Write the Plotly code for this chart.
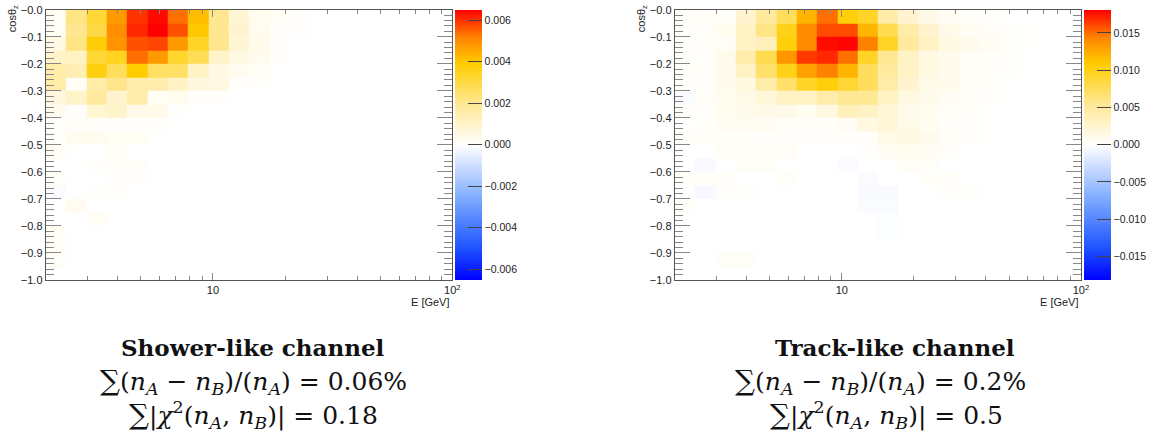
import numpy as np
import plotly.graph_objects as go

# ---------------- binning (axes) ----------------
E_LO, E_HI, N_E = 2.0, 100.0, 20
COS_LO, COS_HI, N_COS = -1.0, 0.0, 20

# ---------------- data: relative difference per bin, in units of 1e-3 ----------------
# rows listed from top (cos_z ~ 0) to bottom (cos_z ~ -1); 20 energy bins each
SHOWER = [
    [0.2, 2.2, 3.2, 4.8, 6.0, 6.4, 5.4, 4.2, 2.0, 0.8, 0.3, 0.2, 0.05, 0, 0, 0, 0, 0, 0, 0],
    [0.2, 2.0, 3.0, 5.0, 6.1, 6.5, 5.7, 4.0, 2.0, 0.9, 0.3, 0.1, 0.05, 0, 0, 0, 0, 0, 0, 0],
    [0.5, 2.2, 3.8, 4.9, 5.7, 5.8, 4.8, 3.4, 2.0, 0.8, 0.4, 0.1, 0, 0, 0, 0, 0, 0, 0, 0],
    [1.0, 1.1, 3.2, 3.5, 5.4, 4.8, 3.3, 2.8, 1.0, 0.5, 0.3, 0.1, 0, 0, 0, 0, 0, 0, 0, 0],
    [1.6, 1.4, 3.7, 2.7, 3.9, 2.6, 2.6, 1.1, 0.5, 0.3, 0.2, 0, 0, 0, 0, 0, 0, 0, 0, 0],
    [1.6, 0.2, 1.6, 2.1, 1.5, 1.5, 1.1, 0.6, 0.5, 0.1, 0.1, 0, 0, 0, 0, 0, 0, 0, 0, 0],
    [0.6, 1.0, 1.8, 0.9, 1.5, 0.2, 0.3, 0.1, 0.1, 0, 0, 0, 0, 0, 0, 0, 0, 0, 0, 0],
    [0.3, 0.05, 0.8, 1.0, 0.4, 0.4, 0.05, 0, 0, 0, 0, 0, 0, 0, 0, 0, 0, 0, 0, 0],
    [0.15, 0.15, 0.15, 0.1, 0.1, 0.1, 0, 0, 0, 0, 0, 0, 0, 0, 0, 0, 0, 0, 0, 0],
    [0.1, 0.3, 0.3, 0.2, 0.2, 0, 0, 0, 0, 0, 0, 0, 0, 0, 0, 0, 0, 0, 0, 0],
    [0.2, 0, 0, 0.2, 0, 0, 0, 0, 0, 0, 0, 0, 0, 0, 0, 0, 0, 0, 0, 0],
    [0, 0, 0.1, 0.15, 0.15, 0, 0, 0, 0, 0, 0, 0, 0, 0, 0, 0, 0, 0, 0, 0],
    [0.15, 0, 0, 0.1, 0.1, 0, 0, 0, 0, 0, 0, 0, 0, 0, 0, 0, 0, 0, 0, 0],
    [-0.1, 0, 0.1, 0.1, 0, 0, 0, 0, 0, 0, 0, 0, 0, 0, 0, 0, 0, 0, 0, 0],
    [0, 0.3, 0, 0, 0, 0, 0, 0, 0, 0, 0, 0, 0, 0, 0, 0, 0, 0, 0, 0],
    [0, 0, 0.2, 0, 0, 0, 0, 0, 0, 0, 0, 0, 0, 0, 0, 0, 0, 0, 0, 0],
    [0.2, 0, 0, 0, 0, 0, 0, 0, 0, 0, 0, 0, 0, 0, 0, 0, 0, 0, 0, 0],
    [0.2, 0, 0, 0, 0, 0, 0, 0, 0, 0, 0, 0, 0, 0, 0, 0, 0, 0, 0, 0],
    [0.15, 0, 0, 0, 0, 0, 0, 0, 0, 0, 0, 0, 0, 0, 0, 0, 0, 0, 0, 0],
    [0, 0, 0, 0, 0, 0, 0, 0, 0, 0, 0, 0, 0, 0, 0, 0, 0, 0, 0, 0],
]

TRACK = [
    [0.2, 0.5, 0.3, 2.5, 5.0, 7.5, 12.0, 15.0, 10.5, 9.5, 4.5, 2.5, 1.2, 0.6, 0.3, 0.2, 0.1, 0, 0, 0],
    [0.2, 0.4, 0.8, 3.0, 6.0, 10.0, 14.0, 16.0, 16.0, 12.0, 8.0, 4.5, 2.5, 1.2, 0.6, 0.4, 0.2, 0.1, 0, 0],
    [0.2, 0.3, 0.5, 3.0, 3.5, 10.5, 14.0, 17.8, 18.0, 14.5, 9.5, 5.0, 3.0, 1.5, 1.0, 0.6, 0.3, 0.1, 0, 0],
    [0.2, 0.3, 1.0, 4.5, 8.0, 13.5, 16.5, 17.0, 15.0, 9.5, 5.5, 3.0, 1.5, 1.0, 0.5, 0.3, 0.2, 0, 0, 0],
    [0.4, 0.3, 1.0, 3.0, 7.0, 10.0, 13.0, 14.5, 12.0, 7.5, 5.0, 3.0, 1.5, 1.0, 0.5, 0.3, 0.2, 0, 0, 0],
    [0.2, 0.4, 1.0, 1.5, 4.5, 7.0, 9.5, 10.5, 9.0, 7.5, 4.5, 2.5, 1.2, 1.0, 0.5, 0.3, 0.1, 0, 0, 0],
    [-0.3, 0.5, 0.8, 1.2, 2.0, 3.0, 3.0, 4.5, 5.5, 5.5, 3.0, 1.5, 1.0, 0.6, 0.3, 0.2, 0.1, 0, 0, 0],
    [0.2, 0.3, 0.8, 1.0, 1.2, 1.2, 0.8, 1.5, 3.5, 3.0, 2.0, 1.0, 0.8, 0.5, 0.3, 0.1, 0, 0, 0, 0],
    [0.1, 0.3, 0.6, 0.6, 0.6, 0.3, 0.3, 0.3, 0.6, 1.5, 2.0, 1.2, 0.8, 0.3, 0.2, 0.1, 0, 0, 0, 0],
    [0.2, 0.5, 0.3, 0.3, 0.2, 0.2, 0.2, 0.2, 0.2, 0.2, 1.2, 1.5, 1.0, 0.5, 0.2, 0.1, 0, 0, 0, 0],
    [0, 0, 0.5, 0.5, 0.5, 0.5, 0, 0, 0, 0.2, 0.6, 0.8, 0.6, 0.4, 0, 0, 0, 0, 0, 0],
    [0, -0.4, 0, 0.4, 0.4, 0, 0, 0, -0.3, 0, 0, 0.5, 0.4, 0, 0, 0, 0, 0, 0, 0],
    [0.3, 0.3, 0.3, 0, 0, 0.4, 0, 0, 0, -0.3, 0, 0, 0.3, 0.3, 0, 0, 0, 0, 0, 0],
    [0, -0.5, 0.3, 0.3, 0, 0, 0, 0, 0, -0.4, -0.4, 0, 0, 0.3, 0.3, 0, 0, 0, 0, 0],
    [0.3, 0, 0, 0, 0, 0, 0, 0, 0, -0.3, -0.3, 0, 0, 0, 0, 0, 0, 0, 0, 0],
    [0, 0, 0, 0, 0, 0, 0, 0, 0, 0, -0.2, 0, 0, 0, 0, 0, 0, 0, 0, 0],
    [0, 0, 0, 0, 0, 0, 0, 0, 0, 0, -0.2, 0, 0, 0, 0, 0, 0, 0, 0, 0],
    [0, 0, 0, 0, 0, 0, 0, 0, 0, 0, 0, 0, 0, 0, 0, 0, 0, 0, 0, 0],
    [0, 0, 0.4, 0.4, 0, 0, 0, 0, 0, 0, 0, 0, 0, 0, 0, 0, 0, 0, 0, 0],
    [0, 0, 0, 0, 0, 0, 0, 0, 0, 0, 0, 0, 0, 0, 0, 0, 0, 0, 0, 0],
]
UNIT = 1e-3

Z_RANGE_SHOWER = 0.0065
Z_RANGE_TRACK = 0.0181

CB_TICKS_SHOWER = [-0.006, -0.004, -0.002, 0.0, 0.002, 0.004, 0.006]
CB_TICKS_TRACK = [-0.015, -0.010, -0.005, 0.0, 0.005, 0.010, 0.015]

Y_TICKS = [round(-1.0 + 0.1 * i, 1) for i in range(11)]
Y_TICKTEXT = ["\u2212%.1f" % abs(v) for v in Y_TICKS]
X_TICKS = [10, 100]
X_TICKTEXT = ["10", "10<sup>2</sup>"]
X_MINOR = [2, 3, 4, 5, 6, 7, 8, 9, 20, 30, 40, 50, 60, 70, 80, 90]

TITLES = ["Shower-like channel", "Track-like channel"]
REL_DIFF = ["0.06%", "0.2%"]
CHI2 = ["0.18", "0.5"]

# ---------------- figure ----------------
W, H = 1151, 436
e_edges = np.logspace(np.log10(E_LO), np.log10(E_HI), N_E + 1)
c_edges = np.linspace(COS_LO, COS_HI, N_COS + 1)

CS = [
    [0.0, "rgb(0,0,255)"],
    [0.12, "rgb(30,85,255)"],
    [0.30, "rgb(125,170,255)"],
    [0.50, "rgb(255,255,255)"],
    [0.65, "rgb(255,232,150)"],
    [0.80, "rgb(255,205,0)"],
    [0.90, "rgb(255,130,0)"],
    [1.0, "rgb(255,0,0)"],
]

TICKFONT = dict(family="Liberation Sans, Arial, sans-serif", size=11, color="#222")
CBFONT = dict(family="Liberation Sans, Arial, sans-serif", size=10.5, color="#222")

panels = [
    dict(data=SHOWER, zr=Z_RANGE_SHOWER, cbt=CB_TICKS_SHOWER,
         x0=45.7, x1=452.3, cbx=455.0),
    dict(data=TRACK, zr=Z_RANGE_TRACK, cbt=CB_TICKS_TRACK,
         x0=674.7, x1=1081.0, cbx=1084.0),
]
Y_TOP, Y_BOT = 9.7, 280.0

fig = go.Figure()
for i, p in enumerate(panels):
    z = (np.array(p["data"][::-1], dtype=float) * UNIT)
    xa = "x" if i == 0 else "x2"
    ya = "y" if i == 0 else "y2"
    fig.add_trace(go.Heatmap(
        x=e_edges, y=c_edges, z=z, xaxis=xa, yaxis=ya,
        colorscale=CS, zmin=-p["zr"], zmax=p["zr"],
        hoverongaps=False,
        colorbar=dict(
            x=p["cbx"] / W, xanchor="left", xref="container",
            y=1 - Y_TOP / H, yanchor="top", yref="container",
            len=Y_BOT - Y_TOP, lenmode="pixels",
            thickness=27, thicknessmode="pixels",
            xpad=0, ypad=0, outlinewidth=0,
            ticks="inside", ticklen=14, tickcolor="#444", tickwidth=1,
            tickvals=p["cbt"], tickformat=".3f",
            tickfont=CBFONT,
        ),
    ))

    axis_common = dict(showgrid=False, zeroline=False, showline=True,
                       linecolor="#555", linewidth=1, mirror="allticks",
                       ticks="inside", tickcolor="#888", tickfont=TICKFONT,
                       automargin=False)
    xkey = "xaxis" if i == 0 else "xaxis2"
    ykey = "yaxis" if i == 0 else "yaxis2"
    fig.update_layout(**{
        xkey: dict(type="log", range=[np.log10(E_LO), np.log10(E_HI)],
                   domain=[p["x0"] / W, p["x1"] / W], anchor=ya,
                   tickvals=X_TICKS, ticktext=X_TICKTEXT, ticklen=7,
                   minor=dict(tickvals=X_MINOR, ticklen=4, ticks="inside", tickcolor="#888"),
                   **axis_common),
        ykey: dict(range=[COS_LO, COS_HI],
                   domain=[1 - Y_BOT / H, 1 - Y_TOP / H], anchor=xa,
                   tickvals=Y_TICKS, ticktext=Y_TICKTEXT, ticklen=15,
                   minor=dict(dtick=0.02, tick0=0, ticklen=8, ticks="inside", tickcolor="#888"),
                   **axis_common),
    })

    # axis titles
    fig.add_annotation(x=p["x1"] / W, y=1 - 302 / H, xref="paper", yref="paper",
                       text="E [GeV]", showarrow=False, xanchor="right", yanchor="middle",
                       font=TICKFONT)
    fig.add_annotation(x=(p["x0"] - 33) / W, y=1 - 3 / H, xref="paper", yref="paper",
                       text="cos\u03b8<sub>z</sub>", textangle=-90, showarrow=False,
                       xanchor="center", yanchor="top", font=TICKFONT)

# ---------------- text below the panels ----------------
SERIF = "DejaVu Serif, Liberation Serif, serif"
SUM = '<span style="font-size:28px">\u2211</span>'
line_centers = [(253, 253, 253), (895, 880, 886)]
for i in range(2):
    c1, c2, c3 = [c / W for c in line_centers[i]]
    fig.add_annotation(x=c1, y=1 - 347 / H, xref="paper", yref="paper", showarrow=False,
                       text="<b>%s</b>" % TITLES[i], xanchor="center", yanchor="middle",
                       font=dict(family=SERIF, size=23, color="#111"))
    fig.add_annotation(x=c2, y=1 - 381 / H, xref="paper", yref="paper", showarrow=False,
                       text=SUM + "(<i>n</i><sub><i>A</i></sub> \u2212 <i>n</i><sub><i>B</i></sub>)/(<i>n</i><sub><i>A</i></sub>) = %s" % REL_DIFF[i],
                       xanchor="center", yanchor="middle",
                       font=dict(family=SERIF, size=25, color="#111"))
    fig.add_annotation(x=c3, y=1 - 415 / H, xref="paper", yref="paper", showarrow=False,
                       text=SUM + "|<i>\u03c7</i><sup>2</sup>(<i>n</i><sub><i>A</i></sub>, <i>n</i><sub><i>B</i></sub>)| = %s" % CHI2[i],
                       xanchor="center", yanchor="middle",
                       font=dict(family=SERIF, size=25, color="#111"))

fig.update_layout(width=W, height=H, margin=dict(l=0, r=0, t=0, b=0, autoexpand=False),
                  paper_bgcolor="white", plot_bgcolor="white", showlegend=False)

fig.write_html("out.html", config={"displayModeBar": False},
               post_script="document.body.style.margin='0px';")
